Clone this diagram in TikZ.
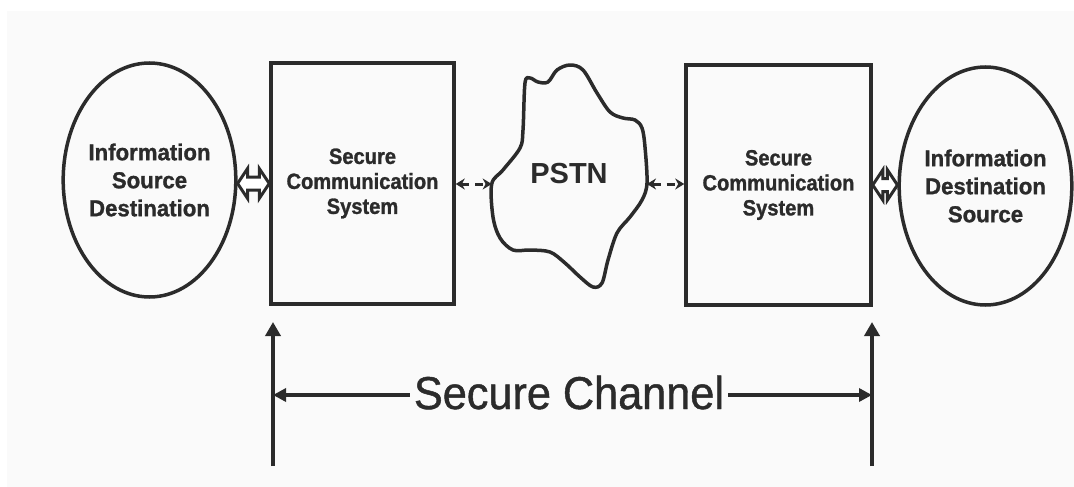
\documentclass[tikz,border=0pt]{standalone}
\usepackage{fontspec}
\setmainfont{Liberation Sans}
\newfontfamily\ovalfont{Liberation Sans}[FakeStretch=0.965,BoldFeatures={FakeBold=1.2}]
\newfontfamily\boxfont{Liberation Sans}[FakeStretch=0.914,BoldFeatures={FakeBold=1.2}]
\newfontfamily\chanfont{Liberation Sans}[FakeStretch=0.94,FakeBold=1]
\usetikzlibrary{shapes.geometric,arrows.meta,calc}
\definecolor{ink}{HTML}{2B2B2B}
\definecolor{paper}{HTML}{FAFAFA}

\begin{document}
\begin{tikzpicture}[x=1pt,y=-1pt,
  stroke/.style={draw=ink,line width=3.5pt},
  oval/.style={stroke,ellipse,inner sep=0pt,text=ink,align=center,
    font=\ovalfont\bfseries\fontsize{23}{28}\selectfont},
  unitbox/.style={stroke,rectangle,inner sep=0pt,text=ink,align=center,
    font=\boxfont\bfseries\fontsize{22}{25}\selectfont},
  hollow/.style={draw=ink,line width=3pt,line join=miter,fill=white},
  linkarrow/.style={draw=ink,line width=3pt,dash pattern=on 8pt off 6pt,
    {Stealth[length=9pt,width=11pt]}-{Stealth[length=9pt,width=11pt]}},
  bound/.style={draw=ink,line width=3.5pt,-{Triangle[length=14pt,width=15pt]}},
  chan/.style={draw=ink,line width=3.5pt,-{Triangle[length=13pt,width=13pt]}},
]
\useasboundingbox (0,0) rectangle (1074,487);
\fill[paper] (7,11) rectangle (1074,487);

% end points and the two communication units
\node[oval,minimum width=171pt,minimum height=234pt] (srcL) at (149.5,180)
  {Information\\Source\\Destination};
\node[unitbox,minimum width=183pt,minimum height=241pt] (scsL) at (362.5,183.5)
  {Secure\\Communication\\System};
\node[unitbox,minimum width=185pt,minimum height=240pt] (scsR) at (778.5,185)
  {Secure\\Communication\\System};
\node[oval,minimum width=171pt,minimum height=238pt] (dstR) at (985.5,186)
  {Information\\Destination\\Source};

% public switched telephone network
\draw[stroke,line join=round] plot[smooth cycle,tension=0.55] coordinates {
  (491.7,184) (503,170) (520,148) (523,130) (525,83) (530,78) (538,82)
  (548,82) (557,70) (570,65) (583,70) (597,93) (610,112) (623,118) (635,120)
  (642,128) (645,147) (647,183) (642,200) (630,217) (617,233) (608,260)
  (602,283) (593,287) (580,277) (565,263) (550,252) (530,250) (513,250)
  (500,238) (493,217)};
\node[text=ink,font=\bfseries\fontsize{29}{29}\selectfont] (pstn) at (569,174) {PSTN};
\coordinate (cloudW) at (491.7,184);
\coordinate (cloudE) at (647,184);

% hollow double arrows between end points and units
\draw[hollow] let \p1=($(scsL.west)-(srcL.east)$), \n1={\x1-20pt} in
  (srcL.east |- scsL.west) -- ++(10,-15) -- ++(0,8.5) -- ++(\n1,0) -- ++(0,-8.5)
  -- ++(10,15) -- ++(-10,15) -- ++(0,-8.5) -- ++(-\n1,0) -- ++(0,8.5) -- cycle;
\draw[hollow] let \p1=($(dstR.west)-(scsR.east)$), \n1={\x1-20pt} in
  (scsR.east) -- ++(10,-15) -- ++(0,8.5) -- ++(\n1,0) -- ++(0,-8.5)
  -- ++(10,15) -- ++(-10,15) -- ++(0,-8.5) -- ++(-\n1,0) -- ++(0,8.5) -- cycle;

% line links to the network
\draw[linkarrow] (scsL.east |- cloudW) -- (cloudW);
\draw[linkarrow] (cloudE) -- (scsR.west |- cloudE);

% secure channel span
\coordinate (upL) at (273,322);
\coordinate (lowL) at (273,466);
\coordinate (upR) at (872,322);
\coordinate (lowR) at (872,466);
\coordinate (hL) at (273,395);
\coordinate (hR) at (872,395);
\draw[bound] (lowL) -- (upL);
\draw[bound] (lowR) -- (upR);
\node[text=ink,font=\chanfont\fontsize{46}{46}\selectfont,inner sep=4pt,anchor=base]
  (chan) at (569,409) {Secure Channel};
\draw[chan] (chan.west |- hL) -- (hL);
\draw[chan] (chan.east |- hR) -- (hR);
\end{tikzpicture}
\end{document}
